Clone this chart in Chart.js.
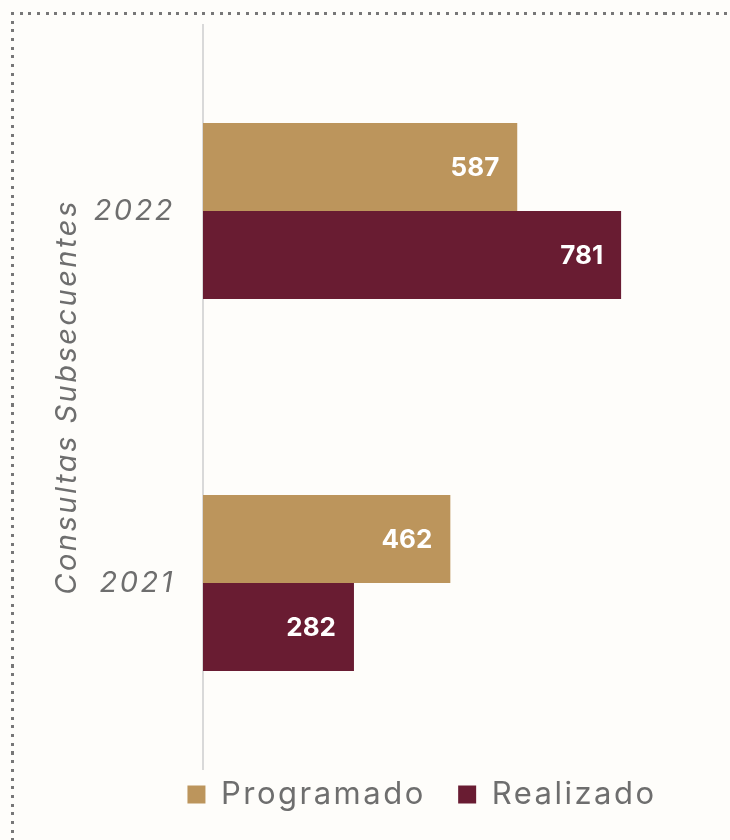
<!DOCTYPE html>
<html>
<head>
<meta charset="utf-8">
<script src="https://cdn.jsdelivr.net/npm/chart.js@4/dist/chart.umd.min.js"></script>
<style>
    html, body { margin: 0; padding: 0; background: #fefdfa; }
    #wrap { position: relative; width: 730px; height: 840px; overflow: hidden; }
    .dots-top {
        position: absolute; left: 11px; top: 12px; width: 719px; height: 3px;
        background: repeating-linear-gradient(to right, #777 0 3px, transparent 3px 8.7px);
    }
    .dots-left {
        position: absolute; left: 11px; top: 12px; width: 3px; height: 828px;
        background: repeating-linear-gradient(to bottom, #777 0 3px, transparent 3px 8.7px);
    }
    canvas { position: absolute; left: 0; top: 0; }
</style>
</head>
<body>
<div id="wrap">
    <div class="dots-top"></div>
    <div class="dots-left"></div>
    <canvas id="chart" width="730" height="840"></canvas>
</div>
<script>
const categories = ['2022', '2021'];
const programado = [587, 462];
const realizado = [781, 282];
const seriesNames = ['Programado', 'Realizado'];
const axisTitle = 'Consultas Subsecuentes';

const gray = '#6e6e6e';
const fontFamily = 'Inter, "Open Sans", sans-serif';

// la fuente original es más ancha, se abre un poco el texto
const wideText = {
    id: 'wideText',
    beforeLayout(chart) { chart.ctx.letterSpacing = '2.5px'; },
    beforeDraw(chart) { chart.ctx.letterSpacing = '2.5px'; },
    afterLayout(chart) {
        // leyenda desplazada a la derecha como en el original
        chart.legend.left += 38;
        chart.legend.right += 38;
    }
};

// etiquetas blancas dentro del extremo de cada barra
const valueLabels = {
    id: 'valueLabels',
    afterDatasetsDraw(chart) {
        const ctx = chart.ctx;
        ctx.save();
        ctx.letterSpacing = '0px';
        ctx.fillStyle = '#ffffff';
        ctx.font = 'bold 26px ' + fontFamily;
        ctx.textAlign = 'right';
        ctx.textBaseline = 'middle';
        chart.data.datasets.forEach((ds, i) => {
            chart.getDatasetMeta(i).data.forEach((bar, j) => {
                ctx.fillText(ds.data[j], bar.x - 18, bar.y + 1);
            });
        });
        ctx.restore();
    }
};

const ctx = document.getElementById('chart').getContext('2d');
new Chart(ctx, {
    type: 'bar',
    data: {
        labels: categories,
        datasets: [{
            label: seriesNames[0],
            data: programado,
            backgroundColor: '#bc955c',
            categoryPercentage: 0.473,
            barPercentage: 1
        }, {
            label: seriesNames[1],
            data: realizado,
            backgroundColor: '#691c32',
            categoryPercentage: 0.473,
            barPercentage: 1
        }]
    },
    options: {
        indexAxis: 'y',
        responsive: false,
        animation: false,
        layout: {
            padding: { top: 25, left: 50, right: 12, bottom: 20 }
        },
        scales: {
            x: {
                display: false,
                min: 0,
                max: 962
            },
            y: {
                grid: { display: false },
                border: { display: true, color: '#d9d9d9', width: 2 },
                ticks: {
                    color: gray,
                    padding: 20,
                    font: { size: 29, style: 'italic', family: fontFamily }
                },
                title: {
                    display: true,
                    text: axisTitle,
                    color: gray,
                    padding: 0,
                    font: { size: 29, style: 'italic', family: fontFamily }
                },
                afterFit(scale) {
                    scale.width = 153;
                    scale.paddingTop = 0;
                    scale.paddingBottom = 0;
                }
            }
        },
        plugins: {
            legend: {
                position: 'bottom',
                labels: {
                    color: gray,
                    boxWidth: 18,
                    boxHeight: 18,
                    padding: 10,
                    font: { size: 31, family: fontFamily },
                    generateLabels(chart) {
                        const items = Chart.defaults.plugins.legend.labels.generateLabels(chart);
                        items[0].text = items[0].text + '  ';
                        return items;
                    }
                }
            },
            tooltip: { enabled: false }
        }
    },
    plugins: [wideText, valueLabels]
});
</script>
</body>
</html>
